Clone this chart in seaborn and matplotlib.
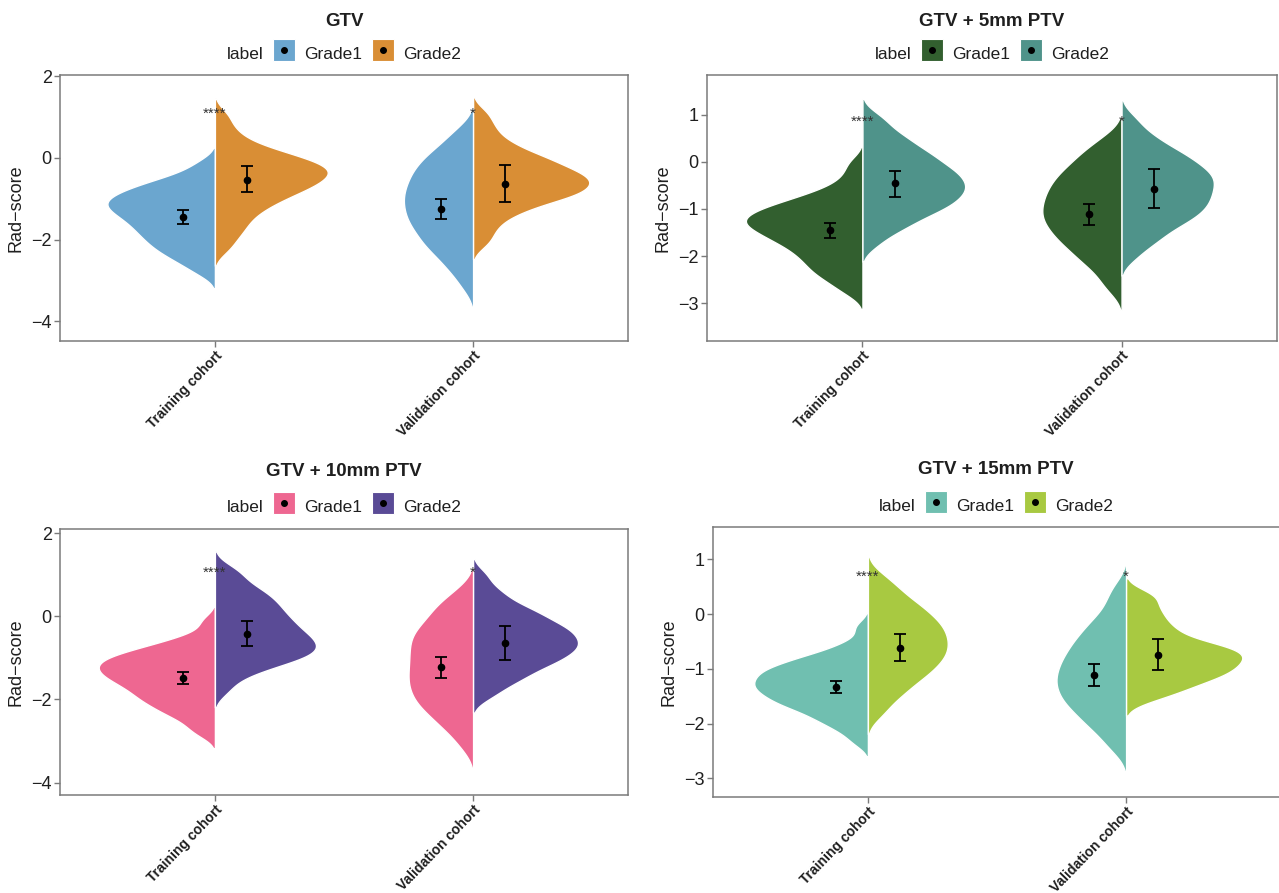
import numpy as np
import pandas as pd
import matplotlib
matplotlib.use("Agg")
import matplotlib.pyplot as plt
import seaborn as sns
from matplotlib.lines import Line2D
from matplotlib import font_manager

# ---------------------------------------------------------------- data
cohorts = ["Training cohort", "Validation cohort"]
grades = ["Grade1", "Grade2"]
titles = ["GTV", "GTV + 5mm PTV", "GTV + 10mm PTV", "GTV + 15mm PTV"]

# Rad-scores per panel / cohort / grade
gtv_train_g1 = [-0.11, -0.32, -0.46, -0.54, -0.61, -0.68, -0.73, -0.79, -0.84, -0.89, -0.93, -0.98, -1.02, -1.06, -1.11, -1.15, -1.19, -1.23, -1.28, -1.32, -1.37, -1.42, -1.47, -1.52, -1.58, -1.63, -1.69, -1.75, -1.81, -1.87, -1.94, -2.00, -2.07, -2.15, -2.22, -2.30, -2.39, -2.50, -2.62, -2.82]
gtv_train_g2 = [1.05, 0.75, 0.54, 0.38, 0.28, 0.18, 0.12, 0.06, 0.01, -0.05, -0.10, -0.14, -0.18, -0.22, -0.26, -0.30, -0.34, -0.38, -0.42, -0.46, -0.50, -0.55, -0.59, -0.64, -0.68, -0.73, -0.78, -0.83, -0.89, -0.96, -1.02, -1.09, -1.18, -1.27, -1.37, -1.50, -1.64, -1.79, -1.97, -2.23]
gtv_valid_g1 = [0.72, 0.50, 0.34, 0.18, 0.09, 0.00, -0.10, -0.19, -0.27, -0.35, -0.42, -0.50, -0.57, -0.65, -0.72, -0.79, -0.86, -0.93, -0.99, -1.06, -1.13, -1.20, -1.27, -1.34, -1.41, -1.48, -1.55, -1.63, -1.70, -1.78, -1.86, -1.96, -2.05, -2.14, -2.24, -2.33, -2.49, -2.65, -2.81, -3.14]
gtv_valid_g2 = [1.10, 0.83, 0.63, 0.44, 0.33, 0.23, 0.12, 0.05, 0.00, -0.06, -0.12, -0.17, -0.23, -0.29, -0.33, -0.37, -0.41, -0.45, -0.49, -0.53, -0.57, -0.61, -0.65, -0.69, -0.73, -0.77, -0.81, -0.86, -0.90, -0.94, -0.98, -1.03, -1.10, -1.18, -1.26, -1.34, -1.47, -1.63, -1.84, -2.09]

ptv5_train_g1 = [-0.03, -0.30, -0.50, -0.62, -0.71, -0.77, -0.84, -0.90, -0.94, -0.98, -1.03, -1.07, -1.11, -1.15, -1.18, -1.22, -1.26, -1.29, -1.33, -1.37, -1.40, -1.44, -1.49, -1.53, -1.58, -1.63, -1.67, -1.72, -1.78, -1.84, -1.91, -1.97, -2.04, -2.12, -2.20, -2.28, -2.37, -2.46, -2.59, -2.77]
ptv5_train_g2 = [0.97, 0.79, 0.62, 0.52, 0.43, 0.34, 0.25, 0.19, 0.13, 0.07, 0.01, -0.05, -0.11, -0.16, -0.20, -0.25, -0.29, -0.34, -0.39, -0.43, -0.47, -0.52, -0.56, -0.60, -0.64, -0.69, -0.73, -0.78, -0.83, -0.88, -0.92, -0.97, -1.03, -1.09, -1.15, -1.23, -1.32, -1.42, -1.52, -1.75]
ptv5_valid_g1 = [0.54, 0.34, 0.22, 0.12, 0.02, -0.08, -0.16, -0.23, -0.30, -0.37, -0.43, -0.50, -0.57, -0.62, -0.68, -0.74, -0.80, -0.86, -0.92, -0.97, -1.03, -1.09, -1.14, -1.20, -1.25, -1.31, -1.37, -1.43, -1.50, -1.56, -1.63, -1.70, -1.77, -1.85, -1.95, -2.05, -2.15, -2.27, -2.48, -2.70]
ptv5_valid_g2 = [0.92, 0.67, 0.52, 0.41, 0.30, 0.22, 0.15, 0.09, 0.03, -0.04, -0.10, -0.15, -0.20, -0.25, -0.30, -0.35, -0.39, -0.44, -0.49, -0.54, -0.59, -0.64, -0.69, -0.74, -0.79, -0.84, -0.89, -0.95, -1.00, -1.05, -1.10, -1.17, -1.23, -1.29, -1.36, -1.45, -1.56, -1.67, -1.78, -2.02]

ptv10_train_g1 = [-0.12, -0.44, -0.56, -0.67, -0.73, -0.79, -0.85, -0.90, -0.95, -0.99, -1.03, -1.07, -1.11, -1.15, -1.19, -1.23, -1.27, -1.31, -1.35, -1.39, -1.43, -1.47, -1.52, -1.56, -1.61, -1.66, -1.71, -1.76, -1.82, -1.88, -1.94, -2.00, -2.06, -2.12, -2.21, -2.29, -2.37, -2.48, -2.65, -2.83]
ptv10_train_g2 = [1.16, 1.00, 0.83, 0.69, 0.60, 0.52, 0.43, 0.35, 0.28, 0.21, 0.14, 0.07, 0.00, -0.06, -0.12, -0.18, -0.23, -0.29, -0.35, -0.41, -0.45, -0.50, -0.55, -0.59, -0.64, -0.69, -0.73, -0.78, -0.82, -0.87, -0.91, -0.96, -1.00, -1.05, -1.12, -1.19, -1.26, -1.37, -1.52, -1.79]
ptv10_valid_g1 = [0.66, 0.42, 0.29, 0.18, 0.07, -0.05, -0.16, -0.25, -0.32, -0.40, -0.48, -0.55, -0.63, -0.70, -0.78, -0.85, -0.93, -1.00, -1.08, -1.15, -1.23, -1.30, -1.38, -1.45, -1.52, -1.59, -1.67, -1.74, -1.81, -1.89, -1.97, -2.05, -2.13, -2.21, -2.30, -2.42, -2.54, -2.67, -2.84, -3.14]
ptv10_valid_g2 = [1.00, 0.71, 0.54, 0.41, 0.28, 0.19, 0.12, 0.06, -0.01, -0.08, -0.14, -0.20, -0.25, -0.29, -0.34, -0.39, -0.43, -0.48, -0.53, -0.57, -0.62, -0.66, -0.70, -0.75, -0.79, -0.83, -0.88, -0.93, -0.98, -1.03, -1.09, -1.14, -1.19, -1.26, -1.35, -1.43, -1.52, -1.60, -1.76, -1.94]

ptv15_train_g1 = [-0.24, -0.51, -0.62, -0.72, -0.77, -0.81, -0.86, -0.90, -0.95, -0.98, -1.01, -1.04, -1.07, -1.10, -1.14, -1.17, -1.20, -1.23, -1.26, -1.29, -1.32, -1.35, -1.38, -1.41, -1.44, -1.48, -1.51, -1.54, -1.58, -1.62, -1.66, -1.69, -1.73, -1.79, -1.85, -1.91, -1.97, -2.06, -2.16, -2.34]
ptv15_train_g2 = [0.71, 0.54, 0.44, 0.34, 0.24, 0.18, 0.12, 0.06, 0.00, -0.06, -0.11, -0.15, -0.20, -0.25, -0.29, -0.34, -0.38, -0.43, -0.47, -0.51, -0.56, -0.60, -0.64, -0.69, -0.73, -0.78, -0.82, -0.86, -0.91, -0.97, -1.02, -1.07, -1.13, -1.18, -1.26, -1.34, -1.43, -1.51, -1.66, -1.84]
ptv15_valid_g1 = [0.51, 0.30, 0.13, -0.04, -0.13, -0.22, -0.30, -0.39, -0.46, -0.52, -0.58, -0.64, -0.71, -0.77, -0.82, -0.87, -0.92, -0.98, -1.03, -1.08, -1.13, -1.18, -1.23, -1.28, -1.32, -1.37, -1.43, -1.48, -1.53, -1.59, -1.64, -1.69, -1.75, -1.83, -1.91, -1.98, -2.06, -2.16, -2.32, -2.48]
ptv15_valid_g2 = [0.38, 0.31, 0.18, 0.07, -0.02, -0.11, -0.20, -0.27, -0.33, -0.40, -0.47, -0.51, -0.55, -0.59, -0.62, -0.65, -0.67, -0.70, -0.73, -0.76, -0.79, -0.82, -0.85, -0.88, -0.91, -0.94, -0.97, -1.00, -1.04, -1.07, -1.10, -1.14, -1.17, -1.21, -1.25, -1.31, -1.36, -1.42, -1.48, -1.58]

# mean and 95% CI, order: train G1, train G2, valid G1, valid G2
gtv_mean = [-1.44, -0.53, -1.24, -0.63]
gtv_low = [-1.61, -0.84, -1.49, -1.09]
gtv_high = [-1.28, -0.20, -1.00, -0.17]
ptv5_mean = [-1.45, -0.46, -1.11, -0.57]
ptv5_low = [-1.61, -0.74, -1.34, -0.98]
ptv5_high = [-1.30, -0.19, -0.90, -0.16]
ptv10_mean = [-1.48, -0.42, -1.23, -0.64]
ptv10_low = [-1.62, -0.72, -1.49, -1.05]
ptv10_high = [-1.33, -0.11, -0.98, -0.24]
ptv15_mean = [-1.34, -0.62, -1.12, -0.74]
ptv15_low = [-1.45, -0.86, -1.32, -1.02]
ptv15_high = [-1.23, -0.36, -0.92, -0.46]

# significance of Grade1 vs Grade2 per cohort
sig_labels = ["****", "*"]
sig_y = [1.09, 0.84, 1.05, 0.69]

palettes = [["#6BA6CF", "#D98E35"], ["#325F2F", "#4F938A"],
            ["#EE6791", "#5A4B96"], ["#70BFB0", "#A8C941"]]

panel_samples = [
    [gtv_train_g1, gtv_train_g2, gtv_valid_g1, gtv_valid_g2],
    [ptv5_train_g1, ptv5_train_g2, ptv5_valid_g1, ptv5_valid_g2],
    [ptv10_train_g1, ptv10_train_g2, ptv10_valid_g1, ptv10_valid_g2],
    [ptv15_train_g1, ptv15_train_g2, ptv15_valid_g1, ptv15_valid_g2],
]
panel_stats = [
    (gtv_mean, gtv_low, gtv_high),
    (ptv5_mean, ptv5_low, ptv5_high),
    (ptv10_mean, ptv10_low, ptv10_high),
    (ptv15_mean, ptv15_low, ptv15_high),
]

# ---------------------------------------------------------------- style
sns.set_theme(style="white")
available = {f.name for f in font_manager.fontManager.ttflist}
base_font = "Liberation Sans" if "Liberation Sans" in available else "DejaVu Sans"
plt.rcParams["font.family"] = [base_font, "DejaVu Sans"]

text_col = "#1f1f1f"
frame_col = "#7a7a7a"

fig = plt.figure(figsize=(12.79, 8.93), dpi=100, facecolor="white")
W, H = 1279.0, 893.0

# axes rectangles in pixels: left, top, right, bottom
rects_px = [(60, 75, 628, 341), (707, 75, 1277, 341),
            (60, 529, 628, 795), (713, 527, 1281, 797)]
ylims = [(-4.48, 2.03), (-3.80, 1.84), (-4.30, 2.10), (-3.34, 1.59)]
yticks = [[-4, -2, 0, 2], [-3, -2, -1, 0, 1], [-4, -2, 0, 2], [-3, -2, -1, 0, 1]]
title_px = [22, 22, 471, 470]
legend_px = [53, 53, 506, 505]

dodge = 0.125

for i in range(4):
    l, t, r, b = rects_px[i]
    ax = fig.add_axes([l / W, 1 - b / H, (r - l) / W, (b - t) / H])
    samples = panel_samples[i]
    rows = []
    for k, vals in enumerate(samples):
        for v in vals:
            rows.append((cohorts[k // 2], grades[k % 2], v))
    df = pd.DataFrame(rows, columns=["cohort", "label", "score"])

    sns.violinplot(data=df, x="cohort", y="score", hue="label",
                   order=cohorts, hue_order=grades, split=True, inner=None,
                   cut=2, density_norm="area", common_norm=True, width=0.9,
                   bw_method="silverman", bw_adjust=0.55, gridsize=200,
                   palette=palettes[i], saturation=1, linecolor="white",
                   linewidth=1.0, legend=False, ax=ax)

    means, lows, highs = panel_stats[i]
    xs = [c + s for c in range(2) for s in (-dodge, dodge)]
    means = np.asarray(means)
    yerr = [means - np.asarray(lows), np.asarray(highs) - means]
    ax.errorbar(xs, means, yerr=yerr, fmt="o", color="black", ms=4.5,
                elinewidth=1.3, capsize=4, capthick=1.3, zorder=5)

    for c in range(2):
        ax.text(c, sig_y[i], sig_labels[c], ha="center", va="center",
                fontsize=11, color="#333333", zorder=6)

    ax.set_xlim(-0.6, 1.6)
    ax.set_ylim(*ylims[i])
    ax.set_yticks(yticks[i])
    ax.set_xlabel("")
    ax.set_ylabel("Rad\u2212score", fontsize=13, color=text_col, labelpad=5)
    ax.set_facecolor("white")
    for sp in ax.spines.values():
        sp.set_color(frame_col)
        sp.set_linewidth(1.1)
    ax.tick_params(axis="both", which="both", direction="out", length=4,
                   width=1, color=frame_col, left=True, bottom=True)
    ax.tick_params(axis="y", labelsize=13, labelcolor=text_col, pad=2)
    ax.set_xticks([0, 1])
    ax.set_xticklabels(cohorts, rotation=46, ha="right", va="top",
                       rotation_mode="anchor", fontsize=10,
                       fontweight="bold", color=text_col)
    ax.tick_params(axis="x", pad=1.5)

    cx = (l + r) / 2 / W
    if i == 3:
        cx = (l + 1279) / 2 / W
    fig.text(cx, 1 - title_px[i] / H, titles[i], ha="center", va="center",
             fontsize=13.5, fontweight="bold", color=text_col)

    # legend keys: filled square with the point marker on top
    handles = [(Line2D([], [], marker="s", markersize=16, markerfacecolor=col,
                       markeredgecolor="white", markeredgewidth=0.8,
                       linestyle="none"),
                Line2D([], [], marker="o", color="black", markersize=4,
                       linestyle="none")) for col in palettes[i]]
    leg = ax.legend(handles, grades, title="label", ncol=2, loc="center",
                    bbox_to_anchor=(cx, 1 - legend_px[i] / H),
                    bbox_transform=fig.transFigure, frameon=False,
                    fontsize=12.5, title_fontsize=12.5, handlelength=1.35,
                    handleheight=1.8, handletextpad=0.5, columnspacing=0.5,
                    borderpad=0)
    for txt in leg.get_texts():
        txt.set_color(text_col)
    leg.get_title().set_color(text_col)
    # put the legend title to the left of the keys
    box = leg.get_children()[0]
    title_area, entries = box.get_children()
    box._children = [entries]
    entries._children = [title_area] + entries.get_children()

fig.savefig("out.png", dpi=100, facecolor="white")
